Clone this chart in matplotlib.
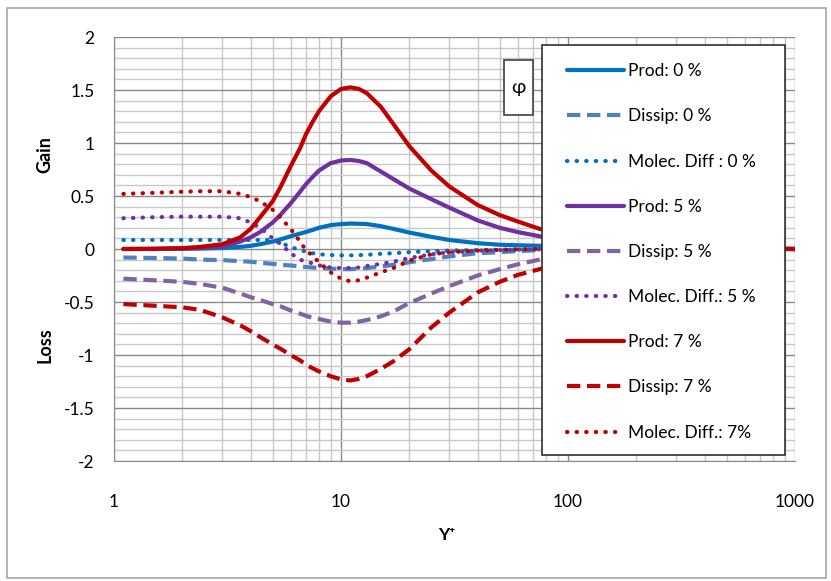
import numpy as np
import matplotlib
matplotlib.use("Agg")
import matplotlib.pyplot as plt
from matplotlib.patches import Rectangle
from matplotlib.ticker import FixedLocator, NullFormatter

plt.rcParams['font.family'] = ['Lato', 'DejaVu Sans']

# y+ positions
yplus = [1.1, 1.5, 2, 2.4, 3, 3.6, 4, 4.4, 5, 5.4, 6, 6.6, 7, 7.5, 8, 9, 10, 11, 12, 13,
         15, 17, 20, 25, 30, 40, 50, 60, 75, 100, 150, 250, 500, 1000]

prod_0 = [0, 0, 0.002, 0.004, 0.01, 0.02, 0.03, 0.045, 0.07, 0.09, 0.12, 0.145, 0.16, 0.18, 0.2, 0.225, 0.235, 0.24, 0.238, 0.235,
          0.215, 0.19, 0.155, 0.115, 0.085, 0.055, 0.04, 0.035, 0.03, 0.02, 0.012, 0.006, 0.002, 0]
dissip_0 = [-0.08, -0.085, -0.09, -0.1, -0.105, -0.115, -0.12, -0.13, -0.14, -0.15, -0.155, -0.165, -0.17, -0.175, -0.18, -0.185, -0.19, -0.19, -0.185, -0.18,
            -0.165, -0.15, -0.125, -0.095, -0.07, -0.04, -0.03, -0.02, -0.01, -0.005, -0.002, 0, 0, 0]
molec_0 = [0.085, 0.085, 0.085, 0.085, 0.085, 0.085, 0.085, 0.085, 0.085, 0.06, 0.02, -0.01, -0.025, -0.04, -0.05, -0.057, -0.06, -0.06, -0.058, -0.055,
           -0.045, -0.04, -0.03, -0.02, -0.015, -0.01, -0.007, -0.005, -0.003, 0, 0, 0, 0, 0]

prod_5 = [0, 0.001, 0.005, 0.012, 0.025, 0.07, 0.11, 0.16, 0.25, 0.32, 0.43, 0.54, 0.61, 0.68, 0.74, 0.81, 0.835, 0.84, 0.83, 0.81,
          0.73, 0.66, 0.57, 0.47, 0.39, 0.27, 0.2, 0.16, 0.12, 0.08, 0.05, 0.025, 0.01, 0]
dissip_5 = [-0.28, -0.295, -0.31, -0.33, -0.365, -0.42, -0.455, -0.48, -0.52, -0.54, -0.58, -0.61, -0.63, -0.65, -0.66, -0.685, -0.695, -0.695, -0.685, -0.67,
            -0.635, -0.59, -0.51, -0.42, -0.35, -0.25, -0.19, -0.145, -0.1, -0.065, -0.035, -0.015, -0.005, 0]
molec_5 = [0.29, 0.3, 0.305, 0.305, 0.305, 0.29, 0.25, 0.2, 0.1, 0.05, -0.04, -0.1, -0.12, -0.135, -0.155, -0.175, -0.18, -0.18, -0.175, -0.16,
           -0.14, -0.12, -0.085, -0.05, -0.03, -0.015, -0.01, -0.006, -0.003, 0, 0, 0, 0, 0]

prod_7 = [0, 0.002, 0.008, 0.02, 0.045, 0.11, 0.19, 0.3, 0.45, 0.58, 0.78, 0.95, 1.08, 1.2, 1.3, 1.44, 1.51, 1.525, 1.51, 1.47,
          1.34, 1.18, 0.97, 0.74, 0.59, 0.415, 0.32, 0.26, 0.19, 0.13, 0.08, 0.04, 0.015, 0]
dissip_7 = [-0.52, -0.535, -0.55, -0.575, -0.645, -0.72, -0.775, -0.83, -0.9, -0.94, -1.0, -1.05, -1.09, -1.125, -1.155, -1.2, -1.23, -1.24, -1.225, -1.2,
            -1.13, -1.06, -0.945, -0.74, -0.6, -0.41, -0.31, -0.245, -0.19, -0.12, -0.07, -0.03, -0.01, 0]
molec_7 = [0.52, 0.53, 0.54, 0.545, 0.545, 0.52, 0.49, 0.45, 0.37, 0.3, 0.19, 0.07, -0.01, -0.065, -0.125, -0.22, -0.28, -0.305, -0.295, -0.27,
           -0.22, -0.18, -0.11, -0.05, -0.03, -0.015, -0.008, -0.004, 0, 0, 0, 0, 0, 0]

labels = ["Prod: 0 %", "Dissip: 0 %", "Molec. Diff : 0 %",
          "Prod: 5 %", "Dissip: 5 %", "Molec. Diff.: 5 %",
          "Prod: 7 %", "Dissip: 7 %", "Molec. Diff.: 7%"]
series = [prod_0, dissip_0, molec_0, prod_5, dissip_5, molec_5, prod_7, dissip_7, molec_7]
colors = ["#0070C0", "#4F81BD", "#0070C0",
          "#7030A0", "#8064A2", "#7030A0",
          "#C00000", "#C00000", "#C00000"]
kinds = ["solid", "dash", "dot"] * 3

fig = plt.figure(figsize=(8.31, 5.81), dpi=100)
fig.patches.append(Rectangle((7 / 831, 3 / 581), 819 / 831, 570 / 581, transform=fig.transFigure,
                             fill=False, edgecolor="#A6A6A6", linewidth=1.2))
ax = fig.add_axes([114 / 831, 1 - 461 / 581, 681 / 831, 424 / 581])

for vals, lab, col, kind in zip(series, labels, colors, kinds):
    if kind == "solid":
        ax.plot(yplus, vals, color=col, lw=3.0, label=lab, solid_capstyle="round")
    elif kind == "dash":
        ax.plot(yplus, vals, color=col, lw=3.0, label=lab, linestyle=(0, (3.2, 1.6)))
    else:
        ax.plot(yplus, vals, color=col, lw=3.0, label=lab, linestyle=(0, (0.1, 2.2)),
                dash_capstyle="round")

ax.set_xscale("log")
ax.set_xlim(1, 1000)
ax.set_ylim(-2, 2)
ax.set_yticks(np.arange(-2, 2.01, 0.5))
ax.set_yticklabels(["-2", "-1.5", "-1", "-0.5", "0", "0.5", "1", "1.5", "2"])
ax.set_yticks(np.arange(-2, 2.01, 0.1), minor=True)
ax.set_xticks([1, 10, 100, 1000])
ax.set_xticklabels(["1", "10", "100", "1000"])
ax.xaxis.set_minor_locator(FixedLocator([m * d for d in (1, 10, 100) for m in range(2, 10)]))
ax.xaxis.set_minor_formatter(NullFormatter())

ax.grid(which="minor", color="#C8C8C8", linewidth=1.0)
ax.grid(which="major", color="#8A8A8A", linewidth=1.0)
ax.set_axisbelow(True)
ax.tick_params(which="both", length=0)
ax.tick_params(axis="y", pad=14, labelsize=12.5)
ax.tick_params(axis="x", pad=24, labelsize=12.5)
for s in ax.spines.values():
    s.set_visible(False)
ax.spines["left"].set_visible(True)
ax.spines["left"].set_color("#8A8A8A")
ax.spines["bottom"].set_visible(True)
ax.spines["bottom"].set_color("#8A8A8A")

# phi box
ax.add_patch(Rectangle((0.573, 0.816), 0.042, 0.130, transform=ax.transAxes,
                       facecolor="white", edgecolor="#404040", linewidth=1.2, zorder=5))
ax.text(0.594, 0.881, "φ", transform=ax.transAxes, ha="center", va="center",
        fontsize=14, zorder=6)

# legend frame drawn separately so the entries can sit inset like the original
ax.add_patch(Rectangle((0.628, 0.014), 0.357, 0.967, transform=ax.transAxes,
                       facecolor="white", edgecolor="#303030", linewidth=1.2, zorder=4))
leg = ax.legend(loc="upper left", bbox_to_anchor=(0.665, 0.938),
                fontsize=12.5, labelspacing=1.68, handlelength=3.3, handletextpad=0.2,
                borderpad=0, borderaxespad=0, frameon=False)
leg.set_zorder(6)

fig.text(447 / 831, 1 - 535 / 581, "Y⁺", ha="center", va="center", fontsize=12.5, fontweight="bold")
fig.text(45 / 831, 1 - 155 / 581, "Gain", ha="center", va="center", rotation=90,
         fontsize=13, fontweight="bold")
fig.text(45 / 831, 1 - 345 / 581, "Loss", ha="center", va="center", rotation=90,
         fontsize=13, fontweight="bold")

fig.savefig("out.png", dpi=100)
